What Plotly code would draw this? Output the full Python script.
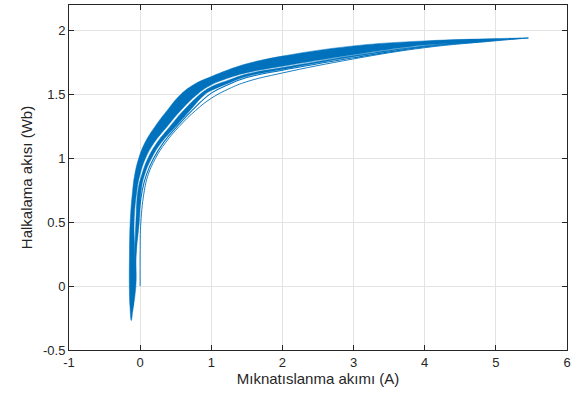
import plotly.graph_objects as go

# ---- data ----
# Thick band A: upper/left edge and lower/right edge (x, y)
A_top_x = [-0.125, -0.143, -0.152, -0.15, -0.14, -0.105, -0.075, -0.02, 0.07, 0.21, 0.38, 0.57, 0.78, 1.0, 1.25, 1.5, 2.0, 3.0, 4.0, 5.0, 5.46]
A_top_y = [-0.27, -0.16, 0.0, 0.25, 0.5, 0.75, 0.875, 1.0, 1.125, 1.25, 1.375, 1.5, 1.585, 1.64, 1.695, 1.74, 1.80, 1.88, 1.919, 1.937, 1.942]
A_bot_x = [-0.125, -0.10, -0.08, -0.075, -0.085, -0.045, 0.0, 0.075, 0.2, 0.38, 0.57, 0.80, 1.0, 1.25, 1.5, 2.0, 3.0, 4.0, 5.0, 5.46]
A_bot_y = [-0.27, -0.16, 0.0, 0.25, 0.5, 0.75, 0.875, 1.0, 1.125, 1.25, 1.375, 1.5, 1.575, 1.63, 1.67, 1.72, 1.81, 1.886, 1.927, 1.942]

# Middle band B
B_top_x = [-0.11, -0.09, -0.075, -0.06, -0.03, 0.025, 0.11, 0.24, 0.42, 0.61, 0.84, 1.0, 1.25, 1.5, 2.0, 3.0, 4.0, 4.9]
B_top_y = [-0.2, 0.0, 0.25, 0.5, 0.75, 0.875, 1.0, 1.125, 1.25, 1.375, 1.5, 1.56, 1.613, 1.66, 1.71, 1.805, 1.882, 1.925]
B_bot_x = [-0.11, -0.06, -0.055, -0.013, 0.015, 0.065, 0.16, 0.30, 0.50, 0.70, 0.91, 1.0, 1.25, 1.5, 2.0, 3.0, 4.0, 4.9]
B_bot_y = [-0.2, 0.0, 0.25, 0.5, 0.75, 0.875, 1.0, 1.125, 1.25, 1.375, 1.5, 1.53, 1.59, 1.64, 1.695, 1.795, 1.876, 1.922]

# Thin line C
C_x = [-0.10, -0.07, -0.03, 0.03, 0.09, 0.19, 0.33, 0.52, 0.73, 1.0, 1.25, 1.5, 2.0, 3.0, 4.0, 5.0, 5.35]
C_y = [-0.15, 0.2, 0.5, 0.75, 0.875, 1.0, 1.125, 1.25, 1.375, 1.51, 1.58, 1.632, 1.69, 1.787, 1.872, 1.925, 1.94]

# Thin line D (initial magnetisation from the origin)
D_x = [0.0, 0.0, 0.01, 0.06, 0.115, 0.215, 0.36, 0.55, 0.78, 1.0, 1.25, 1.5, 2.0, 3.0, 4.0, 5.0, 5.455]
D_y = [0.0, 0.25, 0.5, 0.75, 0.875, 1.0, 1.125, 1.25, 1.375, 1.47, 1.545, 1.60, 1.668, 1.778, 1.866, 1.92, 1.942]

x_ticks = [-1, 0, 1, 2, 3, 4, 5, 6]
x_tick_text = ["-1", "0", "1", "2", "3", "4", "5", "6"]
y_ticks = [-0.5, 0, 0.5, 1, 1.5, 2]
y_tick_text = ["-0.5", "0", "0.5", "1", "1.5", "2"]

BLUE = "#0072BD"
FONT = "Liberation Sans, Arial, sans-serif"

fig = go.Figure()

def band(tx, ty, bx, by):
    xs = list(tx) + list(reversed(bx))
    ys = list(ty) + list(reversed(by))
    fig.add_trace(go.Scatter(x=xs, y=ys, mode="lines", fill="toself",
                             fillcolor=BLUE,
                             line=dict(color=BLUE, width=0.5, shape="spline", smoothing=1.2),
                             hoverinfo="skip", showlegend=False))

band(A_top_x, A_top_y, A_bot_x, A_bot_y)
band(B_top_x, B_top_y, B_bot_x, B_bot_y)
fig.add_trace(go.Scatter(x=C_x, y=C_y, mode="lines",
                         line=dict(color=BLUE, width=1.1, shape="spline", smoothing=1.2),
                         showlegend=False))
fig.add_trace(go.Scatter(x=D_x, y=D_y, mode="lines",
                         line=dict(color=BLUE, width=0.9, shape="spline", smoothing=1.2),
                         showlegend=False))

axis_common = dict(showgrid=True, gridcolor="#e3e3e3", gridwidth=1,
                   showline=True, linecolor="#262626", linewidth=1, mirror="ticks",
                   ticks="inside", ticklen=5, tickcolor="#262626", zeroline=False,
                   tickfont=dict(family=FONT, size=13, color="#262626"))

fig.update_xaxes(range=[-1, 6], tickvals=x_ticks, ticktext=x_tick_text,
                 title=dict(text="Mıknatıslanma akımı (A)", standoff=4,
                            font=dict(family=FONT, size=15, color="#262626")),
                 **axis_common)
fig.update_yaxes(range=[-0.5, 2.2], tickvals=y_ticks, ticktext=y_tick_text,
                 title=dict(text="Halkalama akısı (Wb)", standoff=6,
                            font=dict(family=FONT, size=15, color="#262626")),
                 **axis_common)

fig.update_layout(width=582, height=398, margin=dict(l=69, r=15, t=5, b=48),
                  plot_bgcolor="white", paper_bgcolor="white")

fig.write_html("out.html")
